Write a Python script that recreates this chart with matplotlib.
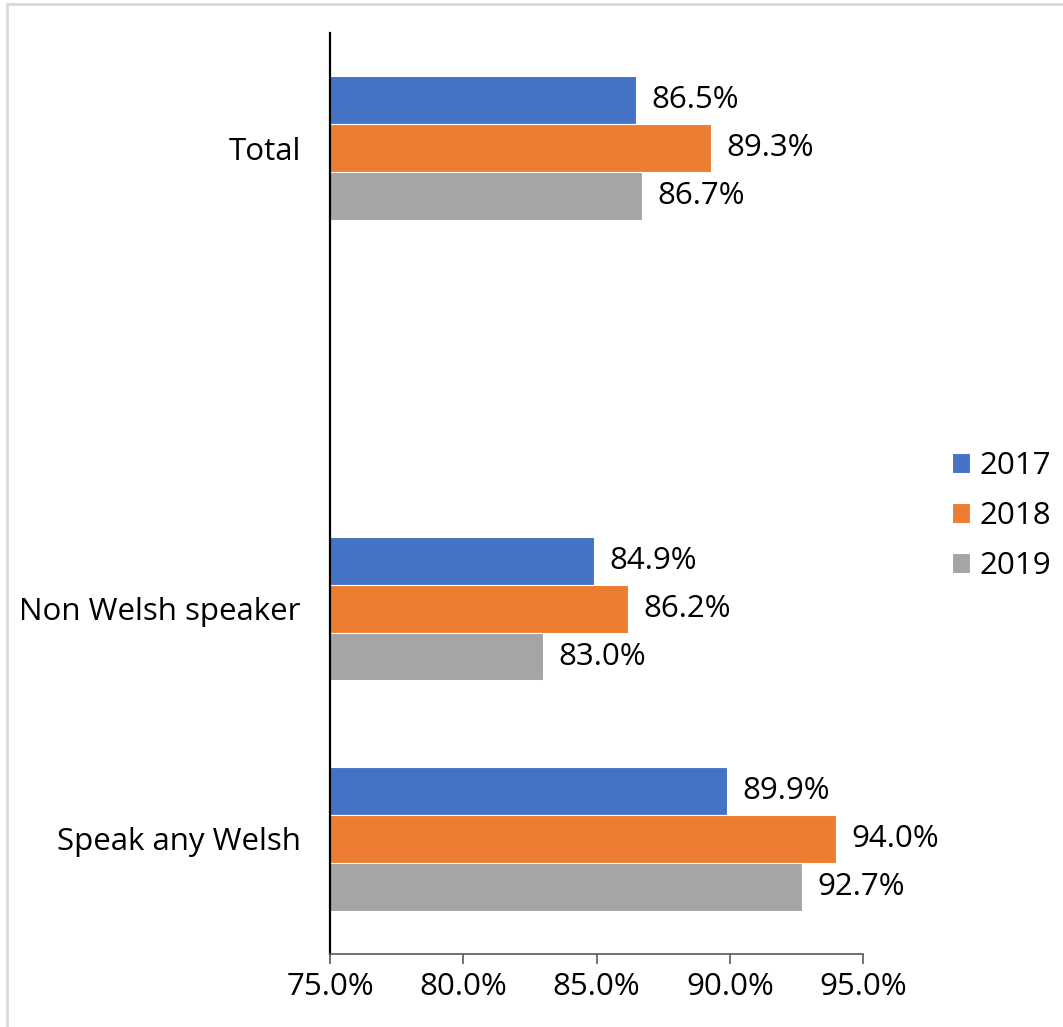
import matplotlib
matplotlib.use("Agg")
import matplotlib.pyplot as plt
import numpy as np
from matplotlib.patches import Rectangle

plt.rcParams['font.family'] = ['Open Sans', 'DejaVu Sans']

categories = ["Speak any Welsh", "Non Welsh speaker", "", "Total"]
years = ["2017", "2018", "2019"]
v2017 = [89.9, 84.9, np.nan, 86.5]
v2018 = [94.0, 86.2, np.nan, 89.3]
v2019 = [92.7, 83.0, np.nan, 86.7]
colors = ["#4472C4", "#ED7D31", "#A5A5A5"]
xticks = [75, 80, 85, 90, 95]

FS = 22.5
W, H = 1063, 1027
fig = plt.figure(figsize=(W / 100, H / 100), dpi=100)
ax = fig.add_axes([330 / W, 1 - 954 / H, (863 - 330) / W, (954 - 33) / H])

y = np.arange(len(categories))
bh = 0.208
offsets = [bh, 0, -bh]
for vals, off, col, lab in zip([v2017, v2018, v2019], offsets, colors, years):
    bars = ax.barh(y + off, vals, height=bh, color=col, edgecolor="white",
                   linewidth=0.8, label=lab)
    labels = ["" if np.isnan(v) else f"{v:.1f}%" for v in vals]
    ax.bar_label(bars, labels=labels, padding=11, fontsize=FS, color="black")

ax.set_xlim(75, 95)
ax.set_ylim(-0.5, 3.5)
ax.set_xticks(xticks)
ax.set_xticklabels([f"{t:.1f}%" for t in xticks], fontsize=FS)
ax.set_yticks(y)
ax.set_yticklabels(categories, fontsize=FS)
ax.tick_params(axis='y', length=0, pad=21)
ax.tick_params(axis='x', length=7, width=1.2, color="#595959", pad=6, direction='out')

for s in ["top", "right"]:
    ax.spines[s].set_visible(False)
ax.spines["left"].set_color("black")
ax.spines["left"].set_linewidth(1.6)
ax.spines["bottom"].set_color("#595959")
ax.spines["bottom"].set_linewidth(1.2)

leg = fig.legend(loc="center left", bbox_to_anchor=(936 / W, 1 - 516 / H),
                 frameon=False, fontsize=FS, handlelength=0.6, handleheight=0.6,
                 handletextpad=0.3, labelspacing=0.65, borderpad=0)

fig.patches.append(Rectangle((7 / W, -0.1), 1.2, 1 - 4 / H + 0.1,
                             transform=fig.transFigure, fill=False,
                             edgecolor="#D9D9D9", linewidth=2, clip_on=False))

fig.savefig("out.png", dpi=100)
